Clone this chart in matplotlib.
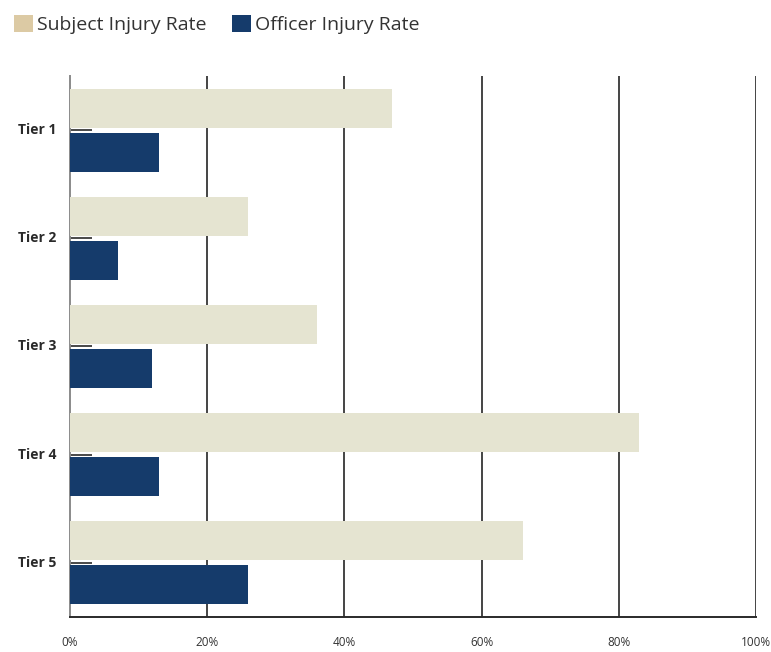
import matplotlib
matplotlib.use("Agg")
import matplotlib.pyplot as plt
from matplotlib.patches import Patch
from matplotlib.transforms import ScaledTranslation
import numpy as np

tiers = ["Tier 1", "Tier 2", "Tier 3", "Tier 4", "Tier 5"]
subject_rate = [47, 26, 36, 83, 66]
officer_rate = [13, 7, 12, 13, 26]
x_ticks = [0, 20, 40, 60, 80, 100]
x_tick_labels = ["0%", "20%", "40%", "60%", "80%", "100%"]

subject_color = "#e5e4d1"
subject_legend_color = "#dccaa4"
officer_color = "#153b6b"
text_color = "#333333"

plt.rcParams["font.family"] = ["Open Sans", "DejaVu Sans"]

fig = plt.figure(figsize=(7.71, 6.52), dpi=100)
ax = fig.add_axes([70 / 771, 1 - 617 / 652, 686 / 771, 541 / 652])

y = np.arange(len(tiers))
h = 0.36
off = 0.204
ax.barh(y - off, subject_rate, height=h, color=subject_color, zorder=3)
ax.barh(y + off, officer_rate, height=h, color=officer_color, zorder=3)

ax.set_xlim(0, 100)
ax.set_ylim(len(tiers) - 0.5, -0.5)

ax.set_xticks(x_ticks)
ax.set_xticklabels(x_tick_labels, color=text_color, fontsize=8.5)
ax.tick_params(axis="x", length=0, pad=14)
ax.set_yticks(y)
ax.set_yticklabels(tiers, fontweight="bold", fontsize=10, color="#2a2a2a",
                   va="center")
lift = ScaledTranslation(0, 2 / 100, fig.dpi_scale_trans)
for lbl in ax.get_yticklabels():
    lbl.set_transform(lbl.get_transform() + lift)
ax.tick_params(axis="y", direction="in", length=16, width=1.2, color="#2a2a2a", pad=10)

for v in x_ticks[1:]:
    ax.axvline(v, color="#444444", lw=1.4, zorder=1)

for side in ["top", "right"]:
    ax.spines[side].set_visible(False)
ax.spines["left"].set_color("#8a8a8a")
ax.spines["left"].set_linewidth(1.4)
ax.spines["bottom"].set_color("#2a2a2a")
ax.spines["bottom"].set_linewidth(1.4)

handles = [Patch(facecolor=subject_legend_color, edgecolor="none"),
           Patch(facecolor=officer_color, edgecolor="none")]
fig.legend(handles, ["Subject Injury Rate", "Officer Injury Rate"],
           loc="upper left", bbox_to_anchor=(0.0, 0.998), ncol=2, frameon=False,
           fontsize=14, handlelength=1.0, handleheight=1.0,
           handletextpad=0.2, columnspacing=1.3, labelcolor=text_color,
           borderaxespad=0.3)

fig.savefig("out.png", dpi=100, facecolor="white")
